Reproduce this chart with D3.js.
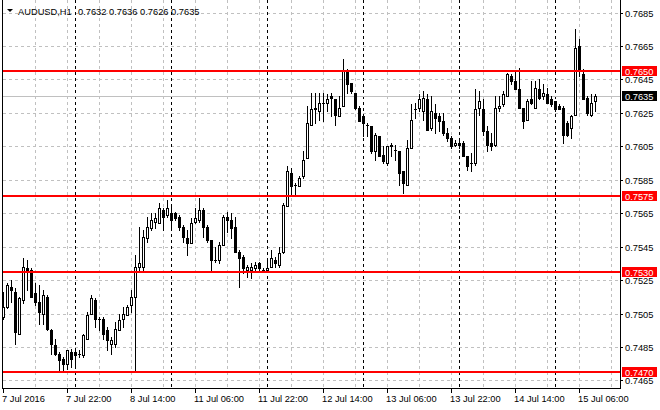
<!DOCTYPE html>
<html><head><meta charset="utf-8">
<script src="https://cdn.jsdelivr.net/npm/d3@7/dist/d3.min.js"></script>
<style>
body{margin:0;background:#fff}
svg{display:block}
text{font-family:"Liberation Sans",Arial,sans-serif;font-size:9.3px;fill:#000}
</style>
</head><body>
<svg id="c" width="660" height="410"></svg>
<script>
// ---- data (AUDUSD H1, first bar 7 Jul 2016 06:00) ----
const symbol = "AUDUSD,H1";
const open = [
.7503,.7509,.7521,.7518,.7493,.7513,.7532,.7531,.7517,.7512,
.7505,.7515,.7495,.7486,.7481,.7478,.7475,.7482,.7482,.7481,
.7480,.7490,.7505,.7513,.7502,.7502,.7495,.7487,.7487,.7495,
.7502,.7504,.7510,.7515,.7533,.7533,.7550,.7556,.7560,.7559,
.7567,.7564,.7565,.7565,.7563,.7557,.7550,.7547,.7560,.7561,
.7567,.7557,.7549,.7537,.7537,.7546,.7563,.7561,.7557,.7542,
.7539,.7531,.7531,.7532,.7535,.7531,.7531,.7533,.7537,.7534,
.7542,.7569,.7589,.7582,.7581,.7587,.7598,.7618,.7628,.7626,
.7631,.7631,.7635,.7633,.7623,.7629,.7650,.7643,.7637,.7628,
.7623,.7618,.7617,.7602,.7611,.7600,.7595,.7606,.7603,.7602,
.7590,.7582,.7604,.7627,.7628,.7626,.7633,.7616,.7625,.7623,
.7620,.7613,.7610,.7606,.7607,.7607,.7599,.7595,.7595,.7628,
.7627,.7614,.7607,.7606,.7628,.7630,.7635,.7647,.7644,.7639,
.7628,.7621,.7633,.7628,.7639,.7635,.7636,.7633,.7632,.7629,
.7628,.7619,.7616,.7624,.7665,.7648,.7634,.7624,.7632];
const high = [
.7518,.7523,.7525,.7520,.7515,.7538,.7537,.7532,.7523,.7522,
.7519,.7516,.7496,.7490,.7482,.7479,.7483,.7484,.7483,.7483,
.7493,.7506,.7516,.7514,.7503,.7503,.7497,.7491,.7500,.7505,
.7509,.7510,.7519,.7540,.7557,.7555,.7563,.7565,.7565,.7571,
.7568,.7573,.7570,.7566,.7564,.7558,.7555,.7562,.7568,.7574,
.7568,.7558,.7549,.7545,.7548,.7564,.7566,.7565,.7563,.7543,
.7540,.7534,.7535,.7536,.7536,.7532,.7537,.7543,.7539,.7545,
.7571,.7593,.7592,.7583,.7587,.7602,.7629,.7637,.7637,.7637,
.7637,.7636,.7637,.7633,.7635,.7657,.7651,.7643,.7637,.7629,
.7624,.7619,.7617,.7613,.7611,.7605,.7605,.7607,.7606,.7602,
.7590,.7609,.7630,.7631,.7636,.7638,.7636,.7635,.7630,.7625,
.7625,.7616,.7611,.7609,.7608,.7608,.7599,.7601,.7639,.7638,
.7633,.7617,.7613,.7635,.7635,.7638,.7649,.7648,.7650,.7652,
.7628,.7633,.7644,.7644,.7645,.7642,.7640,.7635,.7632,.7630,
.7629,.7620,.7624,.7675,.7669,.7651,.7635,.7636,.7636];
const low = [
.7502,.7508,.7512,.7487,.7493,.7511,.7519,.7515,.7510,.7499,
.7499,.7495,.7481,.7480,.7471,.7471,.7472,.7473,.7474,.7479,
.7479,.7490,.7505,.7497,.7495,.7490,.7483,.7481,.7485,.7495,
.7497,.7504,.7506,.7470,.7531,.7531,.7548,.7555,.7556,.7559,
.7555,.7563,.7557,.7561,.7555,.7548,.7540,.7547,.7559,.7560,
.7551,.7548,.7531,.7536,.7535,.7546,.7554,.7550,.7542,.7521,
.7529,.7527,.7526,.7531,.7531,.7530,.7530,.7533,.7533,.7533,
.7541,.7569,.7575,.7576,.7581,.7586,.7598,.7618,.7619,.7621,
.7620,.7626,.7623,.7618,.7623,.7629,.7637,.7637,.7627,.7620,
.7611,.7611,.7601,.7597,.7599,.7595,.7594,.7599,.7597,.7582,
.7577,.7582,.7604,.7622,.7626,.7621,.7615,.7615,.7613,.7614,
.7612,.7608,.7604,.7605,.7604,.7599,.7591,.7590,.7594,.7624,
.7612,.7602,.7603,.7605,.7626,.7629,.7635,.7642,.7639,.7628,
.7616,.7621,.7630,.7628,.7633,.7633,.7631,.7629,.7626,.7627,
.7607,.7611,.7610,.7624,.7647,.7633,.7624,.7623,.7626];
const close = [
.7509,.7522,.7519,.7494,.7514,.7533,.7531,.7515,.7512,.7506,
.7516,.7496,.7487,.7481,.7477,.7475,.7483,.7478,.7480,.7481,
.7492,.7504,.7514,.7502,.7502,.7493,.7489,.7489,.7496,.7501,
.7505,.7509,.7515,.7533,.7535,.7551,.7557,.7561,.7562,.7568,
.7563,.7568,.7561,.7562,.7557,.7551,.7547,.7559,.7562,.7567,
.7557,.7549,.7537,.7537,.7546,.7563,.7561,.7556,.7542,.7538,
.7532,.7533,.7533,.7534,.7532,.7531,.7532,.7538,.7535,.7541,
.7570,.7590,.7581,.7582,.7586,.7597,.7619,.7627,.7627,.7631,
.7631,.7633,.7634,.7624,.7628,.7650,.7642,.7638,.7628,.7620,
.7619,.7618,.7602,.7612,.7599,.7596,.7605,.7605,.7603,.7589,
.7583,.7604,.7621,.7627,.7633,.7634,.7615,.7626,.7622,.7620,
.7613,.7610,.7605,.7607,.7606,.7599,.7593,.7595,.7627,.7632,
.7614,.7606,.7605,.7628,.7629,.7636,.7648,.7644,.7639,.7628,
.7620,.7632,.7631,.7640,.7634,.7637,.7631,.7630,.7627,.7627,
.7612,.7612,.7623,.7664,.7651,.7633,.7625,.7631,.7635];
const priceTicks = [0.7685,0.7665,0.7645,0.7625,0.7605,0.7585,0.7565,0.7545,0.7525,0.7505,0.7485,0.7465];
const levels = [0.7650,0.7575,0.7530,0.7470];
const bid = 0.7635;
const timeLabels = ["7 Jul 2016","7 Jul 22:00","8 Jul 14:00","11 Jul 06:00","11 Jul 22:00","12 Jul 14:00","13 Jul 06:00","13 Jul 22:00","14 Jul 14:00","15 Jul 06:00"];
const timeLabelBars = [0,16,32,48,64,80,96,112,128,144];
const daySeparatorBars = [18,42,66,90,114,138];

// ---- layout ----
const W = 660, H = 410, left = 2, right = 620, bottom = 388;
const svg = d3.select("#c").attr("shape-rendering","crispEdges");
const x = d3.scaleLinear().domain([0,154]).range([3,619]);
const y = d3.scaleLinear().domain([0.7465,0.7685]).range([380.4,12.5]);
const X = i => Math.round(x(i));
const Y = p => Math.round(y(p));

const g = svg.append("g");

// horizontal grid
g.selectAll(".hg").data(priceTicks).join("line")
  .attr("x1",left+1).attr("x2",right).attr("y1",d=>Y(d)+0.5).attr("y2",d=>Y(d)+0.5)
  .attr("stroke","#c0c0c0").attr("stroke-dasharray","3,3");

// vertical grid every 8 bars
const vg = d3.range(8,155,8);
g.selectAll(".vg").data(vg).join("line")
  .attr("x1",d=>X(d)+0.5).attr("x2",d=>X(d)+0.5).attr("y1",0).attr("y2",bottom)
  .attr("stroke","#c0c0c0").attr("stroke-dasharray","3,3");

// day separators
g.selectAll(".ds").data(daySeparatorBars).join("line")
  .attr("x1",d=>X(d)+0.5).attr("x2",d=>X(d)+0.5).attr("y1",0).attr("y2",bottom)
  .attr("stroke","#000").attr("stroke-dasharray","3,3");

// bid line
g.append("line").attr("x1",left+1).attr("x2",right).attr("y1",Y(bid)+0.5).attr("y2",Y(bid)+0.5)
  .attr("stroke","#c0c0c0");

// candles
const idx = d3.range(open.length);
const cg = svg.append("g");
idx.forEach(i=>{
  const px = X(i), o=open[i], h=high[i], l=low[i], c=close[i];
  cg.append("rect").attr("x",px).attr("y",Y(h)).attr("width",1).attr("height",Y(l)-Y(h)+1).attr("fill","#000");
  const top = Y(Math.max(o,c)), bot = Y(Math.min(o,c));
  cg.append("rect").attr("x",px-1).attr("y",top).attr("width",3).attr("height",bot-top+1).attr("fill","#000");
  if (c>o && bot-top>1) {
    cg.append("rect").attr("x",px).attr("y",top+1).attr("width",1).attr("height",bot-top-1).attr("fill","#fff");
  }
});

// level lines
svg.selectAll(".lv").data(levels).join("rect")
  .attr("x",left+1).attr("width",right-left-1).attr("y",d=>Y(d)-1).attr("height",2).attr("fill","#ff0000");

// frame / axes
svg.append("line").attr("x1",left+0.5).attr("x2",left+0.5).attr("y1",0).attr("y2",bottom+1).attr("stroke","#000");
svg.append("line").attr("x1",right+0.5).attr("x2",right+0.5).attr("y1",0).attr("y2",bottom+1).attr("stroke","#000");
svg.append("line").attr("x1",left).attr("x2",right+1).attr("y1",bottom+0.5).attr("y2",bottom+0.5).attr("stroke","#000");

// price ticks & labels
svg.selectAll(".pt").data(priceTicks).join("line")
  .attr("x1",right).attr("x2",right+3).attr("y1",d=>Y(d)+0.5).attr("y2",d=>Y(d)+0.5).attr("stroke","#000");
svg.selectAll(".pl").data(priceTicks).join("text")
  .attr("x",625).attr("y",d=>Y(d)+4).text(d=>d.toFixed(4));

// time ticks & labels
svg.selectAll(".tt").data(timeLabelBars).join("line")
  .attr("x1",d=>X(d)+0.5).attr("x2",d=>X(d)+0.5).attr("y1",bottom).attr("y2",bottom+5).attr("stroke","#000");
svg.selectAll(".tl").data(timeLabels).join("text")
  .attr("x",(d,i)=>X(timeLabelBars[i])-1).attr("y",402).text(d=>d);

// level labels
const boxes = levels.map(v=>({v,fill:"#ff0000"})).concat([{v:bid,fill:"#000"}]);
const bg = svg.selectAll(".bx").data(boxes).join("g");
bg.append("rect").attr("x",622).attr("y",d=>Y(d.v)-5).attr("width",35).attr("height",10).attr("fill",d=>d.fill);
bg.append("text").attr("x",625).attr("y",d=>Y(d.v)+4).style("fill","#fff").text(d=>d.v.toFixed(4));

// header
const n = open.length-1;
svg.append("path").attr("d","M7,9L13,9L10,12Z").attr("fill","#000").attr("shape-rendering","auto");
svg.append("text").attr("x",18).attr("y",15).text(symbol);
svg.append("text").attr("x",78).attr("y",15)
  .text([open[n],high[n],low[n],close[n]].map(v=>v.toFixed(4)).join(" "));
</script>
</body></html>
